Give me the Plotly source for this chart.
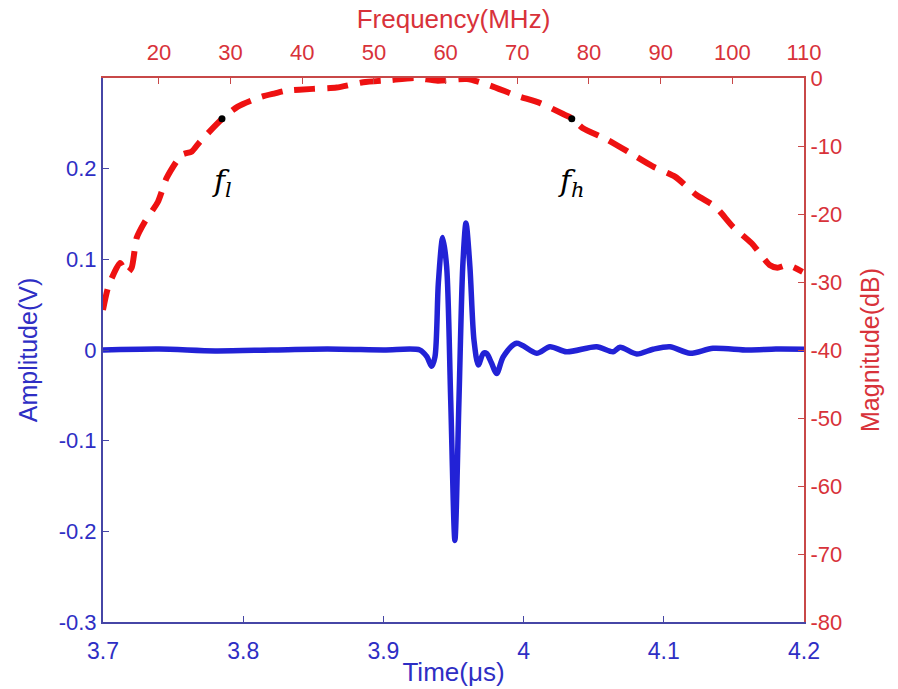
import plotly.graph_objects as go

# ---- Time-domain pulse (Amplitude vs Time) ----
time_us = [3.700, 3.740, 3.780, 3.820, 3.860, 3.900, 3.926, 3.931, 3.9344, 3.9368,
           3.9392, 3.9423, 3.9451, 3.948, 3.951, 3.9539, 3.9566, 3.9589, 3.9617,
           3.9646, 3.9677, 3.9713, 3.9737, 3.9772, 3.9808, 3.9855, 3.9950, 4.0093,
           4.0188, 4.0307, 4.0521, 4.0638, 4.0688, 4.0807, 4.0923, 4.1044, 4.1187,
           4.1351, 4.1600, 4.1800, 4.2000]
amplitude_v = [0.000, 0.001, -0.001, 0.000, 0.001, 0.000, 0.000, -0.0074, -0.018, -0.0074,
               0.074, 0.124, 0.092, -0.055, -0.210, -0.055, 0.092, 0.140, 0.092,
               0.011, -0.0165, -0.0036, -0.004, -0.0147, -0.026, -0.0074, 0.0074, -0.0036,
               0.0036, -0.002, 0.0036, -0.002, 0.003, -0.0044, 0.0008, 0.0036, -0.0036,
               0.0019, 0.000, 0.001, 0.0008]

# ---- Spectrum (Magnitude vs Frequency) ----
freq_mhz = [12.2, 12.94, 14.57, 15.5, 16.2, 16.9, 18.06, 19.87, 21.08, 23.18, 24.6, 25.7,
            28.76, 31.0, 34.3, 36.2, 37.6, 41.5, 44.8, 48.5, 52.0, 55.7, 58.9, 63.0,
            66.2, 69.9, 73.2, 76.4, 77.6, 79.1, 82.6, 85.7, 88.9, 92.0, 95.0, 97.6,
            100.1, 102.7, 105.2, 106.3, 107.7, 109.8]
magnitude_db = [-34.1, -30.7, -27.2, -28.7, -27.9, -23.5, -21.1, -18.2, -14.7, -11.3, -10.8, -9.4,
                -6.07, -4.2, -2.75, -2.25, -1.9, -1.6, -1.4, -0.63, -0.34, 0.0, -0.4, -0.15,
                -1.1, -2.6, -3.7, -5.3, -5.9, -7.35, -9.1, -11.0, -13.0, -14.5, -17.2, -18.9,
                -21.9, -24.3, -27.5, -27.9, -27.5, -28.5]

# -6 dB band edge markers
band_freq = [28.8, 77.6]
band_db = [-6.0, -6.0]
band_labels = ["<i>f</i><sub><i>l</i></sub>", "<i>f</i><sub><i>h</i></sub>"]
label_db = -15.3

time_ticks = [3.7, 3.8, 3.9, 4.0, 4.1, 4.2]
time_ticktext = ["3.7", "3.8", "3.9", "4", "4.1", "4.2"]
amp_ticks = [-0.3, -0.2, -0.1, 0.0, 0.1, 0.2]
amp_ticktext = ["-0.3", "-0.2", "-0.1", "0", "0.1", "0.2"]
freq_ticks = [20, 30, 40, 50, 60, 70, 80, 90, 100, 110]
freq_ticktext = ["20", "30", "40", "50", "60", "70", "80", "90", "100", "110"]
db_ticks = [0, -10, -20, -30, -40, -50, -60, -70, -80]
db_ticktext = ["0", "-10", "-20", "-30", "-40", "-50", "-60", "-70", "-80"]

BLUE = "#2222d6"
BLUE_AX = "#4646a6"
BLUE_TXT = "#2e2ec4"
RED = "#ee1111"
RED_AX = "#c84848"
RED_TXT = "#d8323a"
FONT = "Liberation Sans, Arial, sans-serif"

fig = go.Figure()
fig.add_trace(go.Scatter(x=time_us, y=amplitude_v, mode="lines",
                         line=dict(color=BLUE, width=5.5, shape="spline", smoothing=0.8),
                         xaxis="x", yaxis="y", showlegend=False))
fig.add_trace(go.Scatter(x=freq_mhz, y=magnitude_db, mode="lines",
                         line=dict(color=RED, width=6, dash="21px,12px", shape="spline", smoothing=0.6),
                         xaxis="x2", yaxis="y2", showlegend=False))
fig.add_trace(go.Scatter(x=band_freq, y=band_db, mode="markers",
                         marker=dict(color="black", size=7),
                         xaxis="x2", yaxis="y2", showlegend=False))

for f, lab in zip(band_freq, band_labels):
    fig.add_annotation(x=f, y=label_db, xref="x2", yref="y2", text=lab, showarrow=False,
                       font=dict(family="DejaVu Serif, Liberation Serif, serif", size=30, color="black"))

fig.update_layout(
    width=898, height=689,
    margin=dict(l=103, r=94, t=78, b=67),
    paper_bgcolor="white", plot_bgcolor="white",
    xaxis=dict(range=[3.7, 4.2], tickvals=time_ticks, ticktext=time_ticktext,
               showline=True, linecolor=BLUE_AX, linewidth=2, mirror=False, automargin=False,
               ticks="inside", ticklen=6, tickcolor=BLUE_AX, showgrid=False, zeroline=False,
               ticklabelstandoff=7,
               tickfont=dict(family=FONT, size=23, color=BLUE_TXT),
               title=dict(text="Time(μs)", font=dict(family=FONT, size=26, color=BLUE_TXT), standoff=0)),
    yaxis=dict(range=[-0.3, 0.3], tickvals=amp_ticks, ticktext=amp_ticktext,
               showline=True, linecolor=BLUE_AX, linewidth=2, mirror=False, automargin=False,
               ticks="inside", ticklen=6, tickcolor=BLUE_AX, showgrid=False, zeroline=False,
               tickfont=dict(family=FONT, size=22, color=BLUE_TXT),
               title=dict(text="Amplitude(V)", font=dict(family=FONT, size=25, color=BLUE_TXT), standoff=14)),
    xaxis2=dict(range=[12.2, 110], tickvals=freq_ticks, ticktext=freq_ticktext,
                overlaying="x", side="top", automargin=False,
                showline=True, linecolor=RED_AX, linewidth=2,
                ticks="inside", ticklen=6, tickcolor=RED_AX, showgrid=False, zeroline=False,
                ticklabelstandoff=7,
                tickfont=dict(family=FONT, size=22, color=RED_TXT),
                title=dict(text="Frequency(MHz)", font=dict(family=FONT, size=26, color=RED_TXT), standoff=4)),
    yaxis2=dict(range=[-80, 0], tickvals=db_ticks, ticktext=db_ticktext,
                overlaying="y", side="right", automargin=False,
                showline=True, linecolor=RED_AX, linewidth=2,
                ticks="inside", ticklen=6, tickcolor=RED_AX, showgrid=False, zeroline=False,
                tickfont=dict(family=FONT, size=22, color=RED_TXT),
                title=dict(text="Magnitude(dB)", font=dict(family=FONT, size=25, color=RED_TXT), standoff=20)),
)

fig.write_html("out.html")
